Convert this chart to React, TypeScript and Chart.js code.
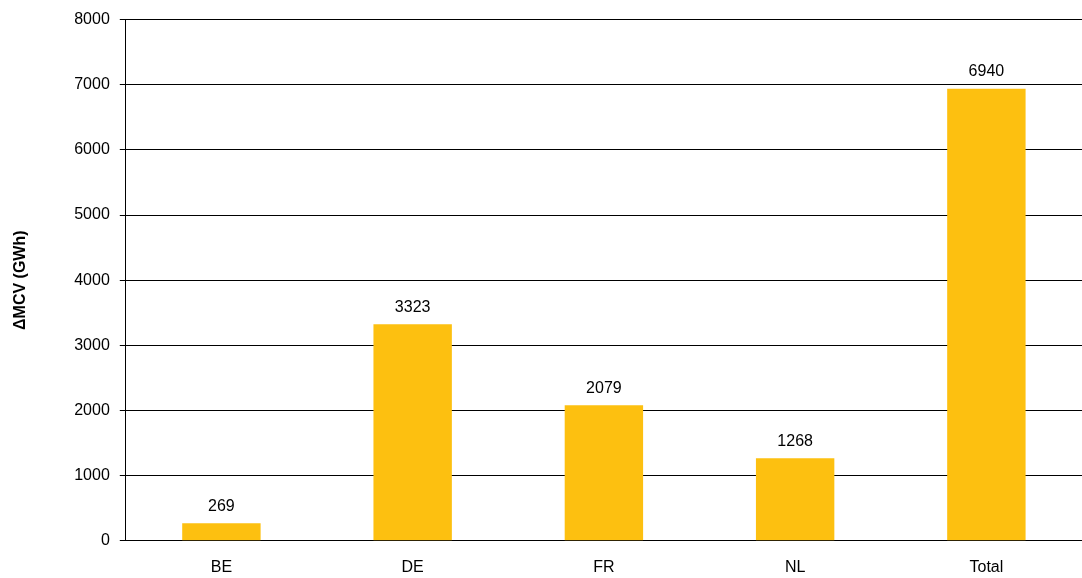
import React, { useEffect, useRef } from "react";
import { Chart, registerables } from "chart.js";
Chart.register(...registerables);

const categories = ["BE", "DE", "FR", "NL", "Total"];
const values = [269, 3323, 2079, 1268, 6940];
const yTitle = "ΔMCV (GWh)";

const labelPlugin = {
  id: "barLabels",
  afterDatasetsDraw(chart: any) {
    const ctx = chart.ctx;
    const meta = chart.getDatasetMeta(0);
    ctx.save();
    ctx.font = "16px 'Liberation Sans', Arial, sans-serif";
    ctx.fillStyle = "#000";
    ctx.textAlign = "center";
    ctx.textBaseline = "bottom";
    meta.data.forEach((el: any, i: number) => {
      ctx.fillText(String(values[i]), el.x, el.y - 9);
    });
    ctx.restore();
  },
};

export default function App() {
  const ref = useRef<HTMLCanvasElement>(null);
  useEffect(() => {
    document.body.style.margin = "0";
    const chart = new Chart(ref.current!, {
      type: "bar",
      data: {
        labels: categories,
        datasets: [{ data: values, backgroundColor: "#FDC010", barPercentage: 0.41, categoryPercentage: 1 }],
      },
      options: {
        animation: false,
        responsive: false,
        layout: { padding: { top: 8, right: 0, left: 7, bottom: -8 } },
        plugins: { legend: { display: false }, tooltip: { enabled: false } },
        scales: {
          x: {
            grid: { display: false },
            border: { color: "#000" },
            ticks: { color: "#000", font: { size: 16, family: "'Liberation Sans', Arial" }, padding: 9 },
          },
          y: {
            min: 0,
            max: 8000,
            ticks: { stepSize: 1000, color: "#000", font: { size: 16, family: "'Liberation Sans', Arial" }, padding: 10, callback: (v: any) => String(v) },
            grid: { color: "#000", tickLength: 6 },
            border: { color: "#000" },
            title: { display: true, text: yTitle, color: "#000", font: { size: 16, weight: "bold", family: "'Liberation Sans', Arial" }, padding: { bottom: 34 } },
          },
        },
      },
      plugins: [labelPlugin],
    });
    return () => chart.destroy();
  }, []);
  return (
    <div style={{ width: 1082, height: 578 }}>
      <canvas ref={ref} width={1082} height={578} />
    </div>
  );
}
